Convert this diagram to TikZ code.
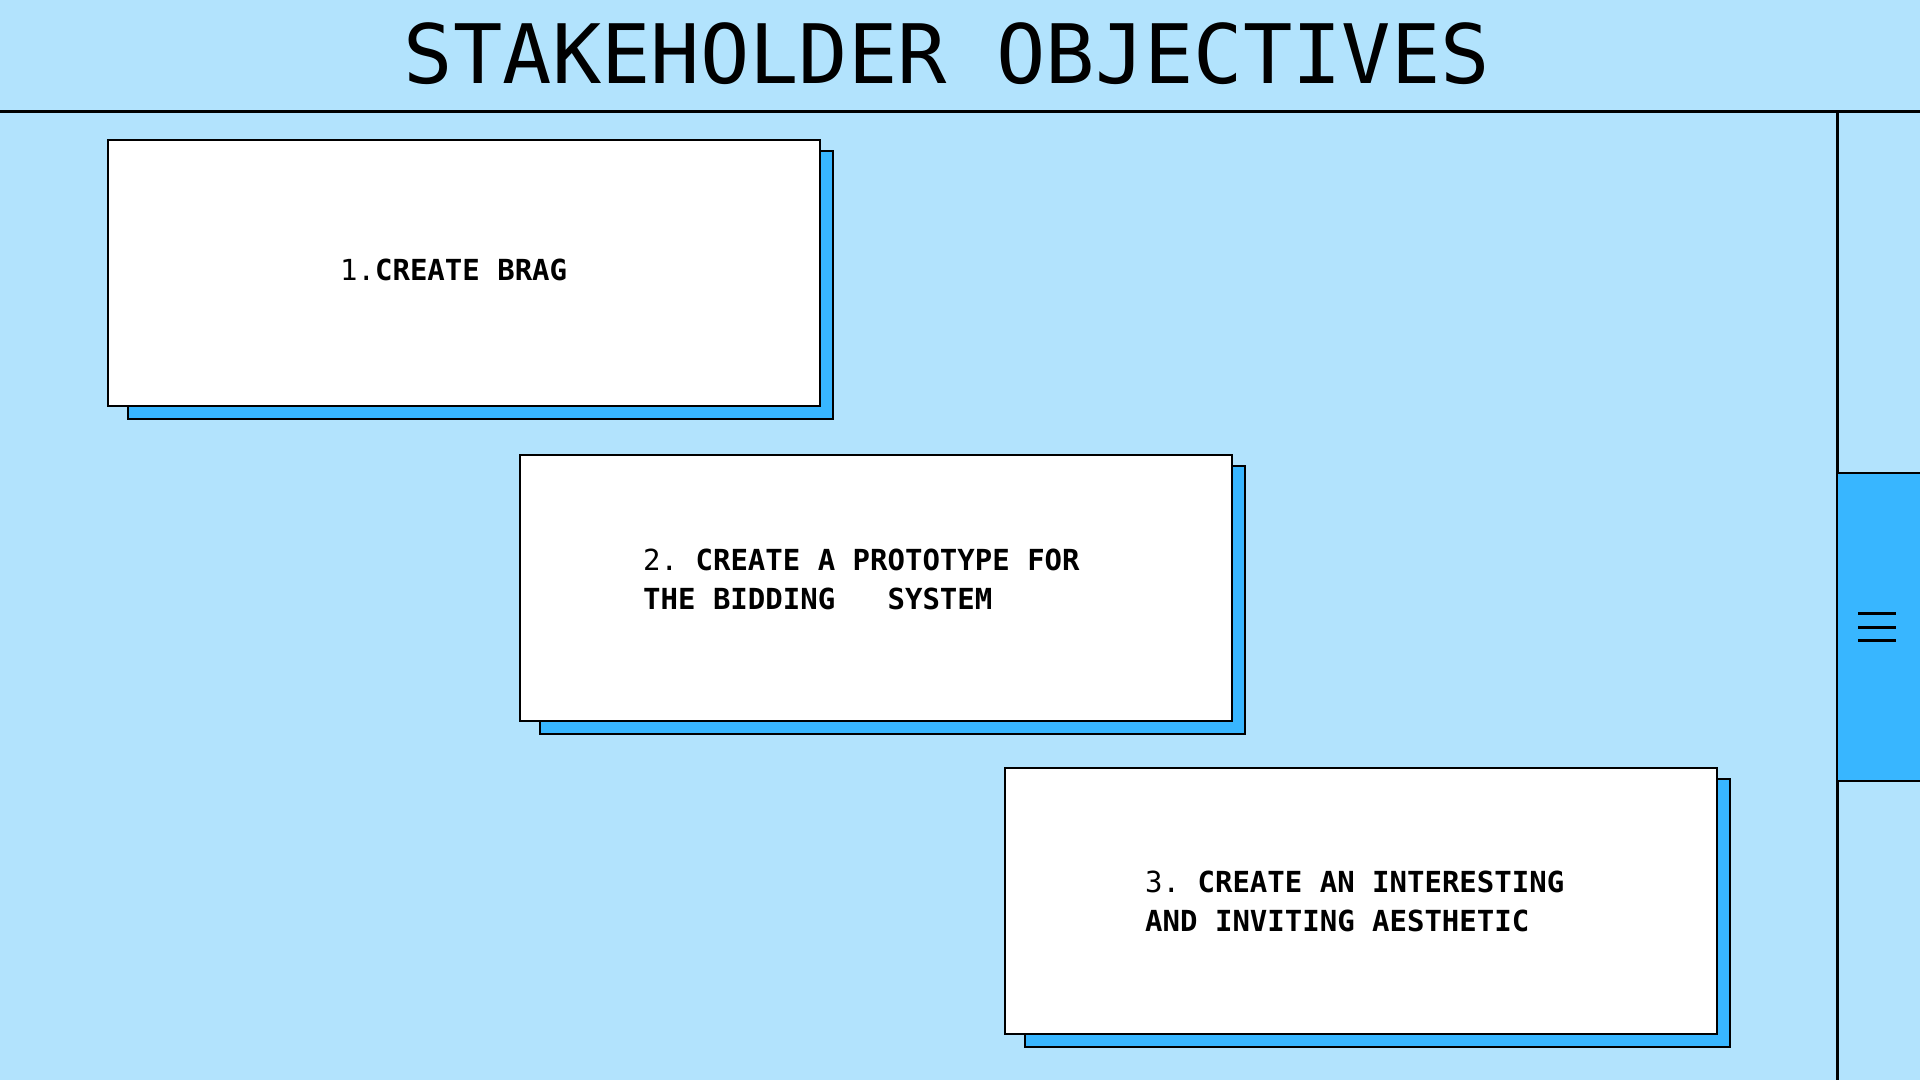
\documentclass[tikz,border=0pt]{standalone}
\usepackage{fontspec}
\setmonofont{DejaVu Sans Mono}
\newfontfamily\cardfont{DejaVu Sans Mono}
\usepackage{xcolor}
\usepackage{tikz}
\usetikzlibrary{positioning}
\frenchspacing

\definecolor{skyback}{RGB}{178,227,253}
\definecolor{accentblue}{RGB}{56,182,255}

\tikzset{
    card/.style={draw, rectangle, fill=white, line width=2pt, inner sep=0pt,
        minimum width=712pt, minimum height=266pt},
    cardshadow/.style={draw, rectangle, fill=accentblue, line width=2pt, inner sep=0pt,
        minimum width=705pt, minimum height=268pt},
    cardtext/.style={inner sep=0pt, anchor=base west, align=left,
        font=\cardfont\fontsize{29pt}{39pt}\selectfont}
}

\begin{document}
\begin{tikzpicture}[x=1pt, y=-1pt]
    % Background
    \useasboundingbox (0,0) rectangle (1920,1080);
    \fill[skyback] (0,0) rectangle (1920,1080);

    % Title
    \node[inner sep=0pt, anchor=base, font=\cardfont\fontsize{82pt}{90pt}\selectfont] (title) at (947,83) {STAKEHOLDER OBJECTIVES};
    \draw[line width=3pt] (0,111) -- (1920,111);
    \draw[line width=3pt] (1837,111) -- (1837,1080);

    % Side menu
    \draw[fill=accentblue, line width=2.5pt] (1837,473) rectangle (1921,781);
    \draw[line width=3pt] (1858,613) -- (1896,613);
    \draw[line width=3pt] (1858,627) -- (1896,627);
    \draw[line width=3pt] (1858,640) -- (1896,640);

    % Shadows
    \node[cardshadow] (back1) at (480.5,285) {};
    \node[cardshadow] (back2) at (892.5,599.5) {};
    \node[cardshadow] (back3) at (1377.5,912.5) {};

    % Cards
    \node[card] (card1) at (464,273) {};
    \node[card] (card2) at (876,587.5) {};
    \node[card] (card3) at (1361,900.5) {};

    % Objectives (base = last line)
    \node[cardtext] (goal1) at (340,280) {1.\textbf{CREATE BRAG}};
    \node[cardtext] (goal2) at (643,609) {2. \textbf{CREATE A PROTOTYPE FOR}\\\textbf{THE BIDDING\ \ \ SYSTEM}};
    \node[cardtext] (goal3) at (1145,931) {3. \textbf{CREATE AN INTERESTING}\\\textbf{AND INVITING AESTHETIC}};
\end{tikzpicture}
\end{document}
